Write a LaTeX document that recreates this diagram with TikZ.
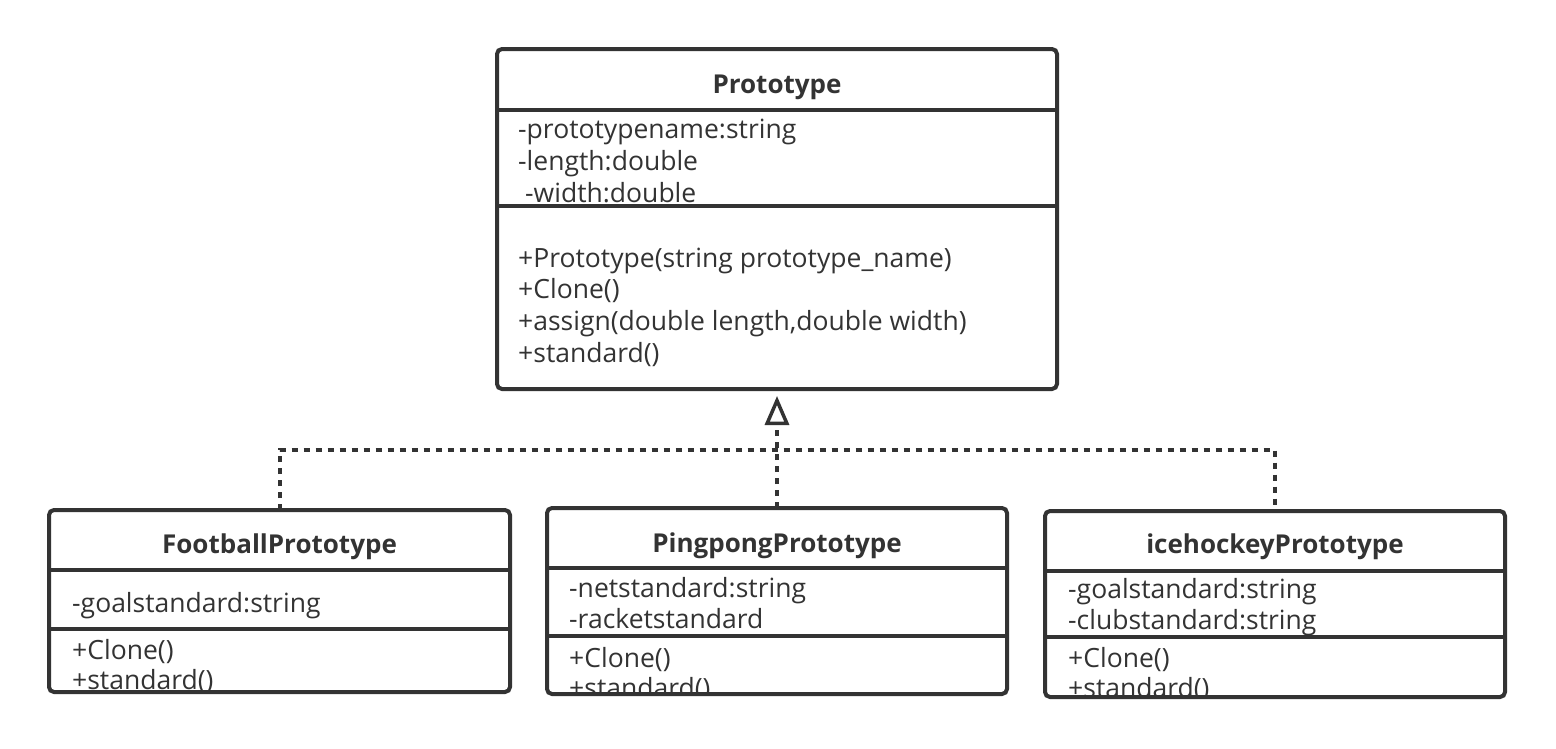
\documentclass[tikz,border=0pt]{standalone}
\usepackage{fontspec}
\setmainfont{Open Sans}
\usetikzlibrary{arrows.meta,calc}
\definecolor{ink}{HTML}{333333}
\tikzset{
  umlbox/.style={draw=ink, line width=4pt, rounded corners=5pt, inner sep=0pt, outer sep=0pt, rectangle},
  sepline/.style={draw=ink, line width=4pt},
  txt/.style={anchor=base west, inner sep=0pt, text=ink, font=\fontsize{26.5}{30}\selectfont},
  ttl/.style={anchor=base, inner sep=0pt, text=ink, font=\fontsize{26}{30}\selectfont\bfseries},
  conn/.style={draw=ink, line width=4pt, dash pattern=on 6pt off 6pt},
}
\begin{document}
\begin{tikzpicture}[x=1pt,y=-1pt]
\useasboundingbox (0,0) rectangle (1556,748);

% boxes
\node[umlbox, minimum width=560pt, minimum height=340pt] (proto) at (777,219) {};
\node[umlbox, minimum width=461pt, minimum height=182pt] (foot) at (279.5,601) {};
\node[umlbox, minimum width=460pt, minimum height=186pt] (ping) at (777,601) {};
\node[umlbox, minimum width=460pt, minimum height=186pt] (ice) at (1275,604) {};

% Prototype
\begin{scope}
\clip ($(proto.south west)+(2,-2)$) rectangle ($(proto.north east)+(-2,2)$);
\node[ttl] (protot) at (777,93) {Prototype};
\node[txt] (pa1) at (518,138) {-prototypename:string};
\node[txt] (pa2) at (518,170) {-length:double};
\node[txt] (pa3) at (525,202) {-width:double};
\node[txt] (pm1) at (518,267) {+Prototype(string prototype\_name)};
\node[txt] (pm2) at (518,298) {+Clone()};
\node[txt] (pm3) at (518,330) {+assign(double length,double width)};
\node[txt] (pm4) at (518,362) {+standard()};
\end{scope}
\draw[sepline] (proto.west |- 0,110) -- (proto.east |- 0,110);
\draw[sepline] (proto.west |- 0,206) -- (proto.east |- 0,206);

% Football
\begin{scope}
\clip ($(foot.south west)+(2,-2)$) rectangle ($(foot.north east)+(-2,2)$);
\node[ttl] (foott) at (279.5,553) {FootballPrototype};
\node[txt] (fa1) at (72,612) {-goalstandard:string};
\node[txt] (fm1) at (72,659) {+Clone()};
\node[txt] (fm2) at (72,689) {+standard()};
\end{scope}
\draw[sepline] (foot.west |- 0,570) -- (foot.east |- 0,570);
\draw[sepline] (foot.west |- 0,629) -- (foot.east |- 0,629);

% Pingpong
\begin{scope}
\clip ($(ping.south west)+(2,-2)$) rectangle ($(ping.north east)+(-2,2)$);
\node[ttl] (pingt) at (777,552) {PingpongPrototype};
\node[txt] (ga1) at (569,597) {-netstandard:string};
\node[txt] (ga2) at (569,628) {-racketstandard};
\node[txt] (gm1) at (569,667) {+Clone()};
\node[txt] (gm2) at (569,697) {+standard()};
\end{scope}
\draw[sepline] (ping.west |- 0,568) -- (ping.east |- 0,568);
\draw[sepline] (ping.west |- 0,636) -- (ping.east |- 0,636);

% icehockey
\begin{scope}
\clip ($(ice.south west)+(2,-2)$) rectangle ($(ice.north east)+(-2,2)$);
\node[ttl] (icet) at (1275,553) {icehockeyPrototype};
\node[txt] (ia1) at (1068,598) {-goalstandard:string};
\node[txt] (ia2) at (1068,629) {-clubstandard:string};
\node[txt] (im1) at (1068,667) {+Clone()};
\node[txt] (im2) at (1068,697) {+standard()};
\end{scope}
\draw[sepline] (ice.west |- 0,571) -- (ice.east |- 0,571);
\draw[sepline] (ice.west |- 0,637) -- (ice.east |- 0,637);

% connectors
\coordinate (tip) at (777,396);
\coordinate (hub) at (777,450);
\draw[conn, -{Triangle[open, length=29pt, width=24pt, line width=3.5pt, sep=0pt]}] (ping.north) -- (tip);
\draw[conn] (foot.north) |- (hub) -| (ice.north);
\end{tikzpicture}
\end{document}
